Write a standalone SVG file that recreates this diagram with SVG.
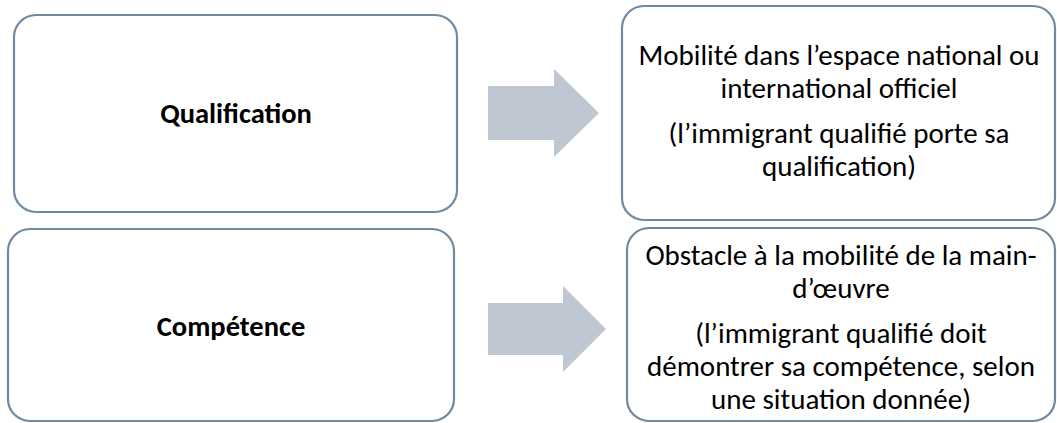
<svg xmlns="http://www.w3.org/2000/svg" width="1057" height="423" viewBox="0 0 1057 423">
<style>
.box{fill:#ffffff;stroke:#7088a0;stroke-width:2.2}
.arrow{fill:#bfc7d3;stroke:none}
.lbl{font-family:Carlito,Lato,"Open Sans",sans-serif;font-size:28.5px;font-weight:bold;fill:#000;text-anchor:middle}
.txt{font-family:Carlito,Lato,"Open Sans",sans-serif;font-size:29px;fill:#000;text-anchor:middle}
</style>
<rect width="1057" height="423" fill="#ffffff"/>
<g id="node-qualification">
<rect class="box" x="14" y="15" width="443" height="197" rx="22"/>
<text class="lbl" x="236" y="123">Qualification</text>
</g>
<g id="node-competence">
<rect class="box" x="8" y="229" width="446" height="192" rx="22"/>
<text class="lbl" x="231" y="336">Compétence</text>
</g>
<g id="node-mobilite">
<rect class="box" x="622" y="6" width="433" height="214" rx="22"/>
<text class="txt" x="839" y="65">Mobilité dans l’espace national ou</text>
<text class="txt" x="839" y="98">international officiel</text>
<text class="txt" x="839" y="143">(l’immigrant qualifié porte sa</text>
<text class="txt" x="839" y="176">qualification)</text>
</g>
<g id="node-obstacle">
<rect class="box" x="627" y="228" width="428" height="193" rx="22"/>
<text class="txt" x="841" y="265">Obstacle à la mobilité de la main-</text>
<text class="txt" x="841" y="298">d’œuvre</text>
<text class="txt" x="841" y="343">(l’immigrant qualifié doit</text>
<text class="txt" x="841" y="376">démontrer sa compétence, selon</text>
<text class="txt" x="841" y="409">une situation donnée)</text>
</g>
<g id="connectors">
<polygon class="arrow" points="488,86 554,86 554,69 599,113 554,157 554,140 488,140"/>
<polygon class="arrow" points="488,303 563,303 563,286 606,329 563,372 563,355 488,355"/>
</g>
</svg>
